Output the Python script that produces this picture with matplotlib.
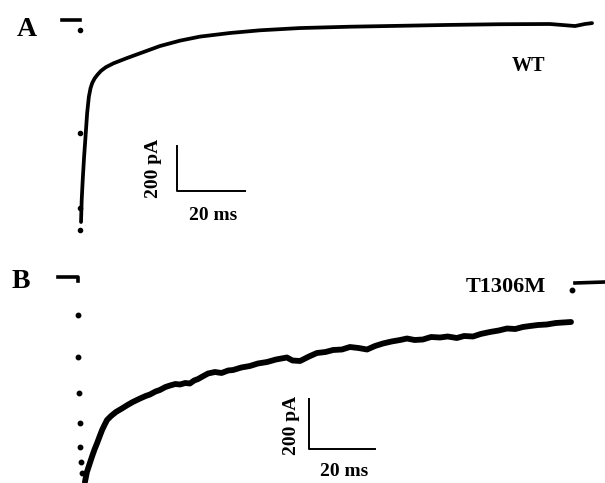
import matplotlib
matplotlib.use("Agg")
import matplotlib.pyplot as plt

plt.rcParams['font.family'] = ['Liberation Serif', 'DejaVu Serif']
plt.rcParams['font.weight'] = 'bold'

# panel A: WT current trace (ms, pA)
wt_t = [0.3, 0.5, 0.8, 1.2, 1.7, 2.1, 2.6, 3.1, 3.6, 4.3, 5.1, 6.2, 7.6, 9.8, 13.7, 18.6,
        23.5, 29.4, 35.3, 44.1, 52.9, 64.7, 79.4, 94.1, 108.8, 123.5, 138.2, 145.6, 148.5, 150.6]
wt_i = [-900, -802, -713, -611, -504, -416, -344, -305, -282, -262, -246, -228, -212, -195, -172, -145,
        -118, -94, -76, -60, -48, -38, -32, -28, -24, -21, -20, -29, -20, -16]
wt_dots_t = [0, 0, 0, 0]
wt_dots_i = [-47, -504, -838, -936]
wt_base_t = [-5.3, 0]
wt_base_i = [0, 0]

# panel B: T1306M current trace
mut_t = [2.1, 2.7, 3.4, 4.2, 5.0, 5.8, 6.6, 7.3, 8.1, 8.8, 10.0, 11.5, 13.3, 15.0, 16.6, 18.8,
         20.5, 21.8, 23.5, 24.8, 26.5, 27.9, 29.5, 30.9, 32.5, 33.9, 35.2, 36.4, 38.0, 39.4,
         41.5, 43.5, 45.5, 47.0, 49.5, 52.1, 54.5, 57.3, 60.0, 63.3, 65.0, 67.3, 70.0, 72.4,
         75.0, 77.3, 80.0, 82.4, 85.0, 87.6, 90.0, 92.4, 95.0, 97.6, 99.7, 102.0, 104.5,
         107.0, 109.7, 112.0, 114.8, 117.0, 119.7, 122.0, 124.8, 127.5, 130.0, 132.5, 134.8,
         137.0, 139.4, 142.0, 144.8, 147.0, 149.4]
mut_i = [-820, -780, -752, -720, -690, -664, -636, -612, -590, -572, -556, -540, -526, -512, -500, -486,
         -476, -470, -458, -452, -440, -434, -428, -430, -424, -426, -414, -408, -396, -386,
         -380, -384, -374, -372, -362, -356, -346, -340, -330, -322, -334, -336, -318, -304,
         -300, -292, -290, -280, -284, -290, -276, -266, -258, -252, -246, -252, -250,
         -240, -242, -238, -244, -236, -238, -228, -220, -214, -206, -208, -200,
         -196, -192, -190, -184, -182, -180]
mut_dots_t = [0, 0, 0.3, 0.6, 0.6, 0.9, 1.2, 149.7]
mut_dots_i = [-152, -320, -464, -584, -680, -740, -784, -52]
mut_base_t = [-6.1, 0, 0]
mut_base_i = [0, 0, -16]
mut_tail_t = [150.6, 159.7]
mut_tail_i = [-24, -20]

fig = plt.figure(figsize=(6.05, 4.83), dpi=100)

axA = fig.add_axes([0, 0.5, 1, 0.5])
axA.plot(wt_t, wt_i, color='black', lw=2.7, solid_capstyle='round', solid_joinstyle='round')
axA.plot(wt_base_t, wt_base_i, color='black', lw=2.6)
axA.plot(wt_dots_t, wt_dots_i, 'o', color='black', ms=3)
axA.plot([28.5, 28.5, 48.5], [-562, -762, -762], color='black', lw=1.4)
axA.text(21.5, -662, '200 pA', rotation=90, ha='center', va='center', fontsize=14)
axA.text(39.1, -869, '20 ms', ha='center', va='center', fontsize=14)
axA.set_xlim(-23.53, 154.41)
axA.set_ylim(-986.7, 86.7)
axA.axis('off')

axB = fig.add_axes([0, 0, 1, 0.5])
axB.plot(mut_t, mut_i, color='black', lw=4.2, solid_capstyle='round', solid_joinstyle='round')
axB.plot(mut_base_t, mut_base_i, color='black', lw=2.6)
axB.plot(mut_tail_t, mut_tail_i, color='black', lw=2.6)
axB.plot(mut_dots_t, mut_dots_i, 'o', color='black', ms=3.2)
axB.plot([70, 70, 90], [-488, -688, -688], color='black', lw=1.4)
axB.text(64.8, -592, '200 pA', rotation=90, ha='center', va='center', fontsize=14)
axB.text(80.6, -776, '20 ms', ha='center', va='center', fontsize=14)
axB.set_xlim(-23.64, 159.70)
axB.set_ylim(-824, 142)
axB.axis('off')

fig.text(27 / 605, 1 - 29 / 483, 'A', ha='center', va='center', fontsize=20)
fig.text(21 / 605, 1 - 282 / 483, 'B', ha='center', va='center', fontsize=20)
fig.text(528 / 605, 1 - 66 / 483, 'WT', ha='center', va='center', fontsize=14.5)
fig.text(506 / 605, 1 - 287 / 483, 'T1306M', ha='center', va='center', fontsize=16)

fig.savefig('out.png', dpi=100)
